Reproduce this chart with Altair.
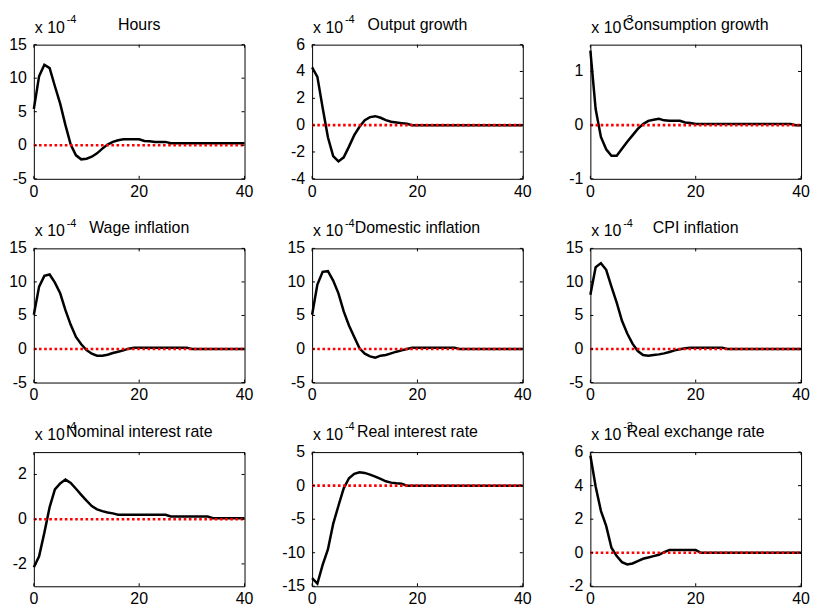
import altair as alt
import pandas as pd

periods = list(range(41))

titles = ["Hours", "Output growth", "Consumption growth",
          "Wage inflation", "Domestic inflation", "CPI inflation",
          "Nominal interest rate", "Real interest rate", "Real exchange rate"]
exponents = ["-4", "-4", "-3", "-4", "-4", "-4", "-4", "-4", "-3"]

hours = [5.4, 10.3, 12.0, 11.5, 8.8, 6.2, 3.0, 0.1, -1.5, -2.1, -2.0, -1.7, -1.2, -0.5,
         0.1, 0.5, 0.75, 0.9, 0.9, 0.9, 0.9, 0.65, 0.6, 0.5, 0.5, 0.5, 0.3] + [0.3] * 14
output_growth = [4.3, 3.6, 1.3, -0.9, -2.3, -2.7, -2.4, -1.6, -0.75, -0.12, 0.37, 0.6, 0.67,
                 0.55, 0.37, 0.25, 0.2, 0.15, 0.1, 0.0] + [0.0] * 21
consumption_growth = [1.39, 0.3, -0.22, -0.45, -0.57, -0.57, -0.44, -0.31, -0.19, -0.07, 0.02,
                      0.08, 0.1, 0.12, 0.09, 0.08, 0.08, 0.08, 0.05, 0.04, 0.02] + [0.02] * 18 + [0.0, 0.0]
wage_inflation = [5.1, 9.3, 10.9, 11.1, 9.9, 8.3, 5.8, 3.6, 1.8, 0.7, -0.15, -0.7, -1.0, -1.0,
                  -0.85, -0.6, -0.4, -0.2, 0.05, 0.2] + [0.2] * 10 + [0.0] * 11
domestic_inflation = [5.1, 9.6, 11.5, 11.6, 10.2, 8.3, 5.6, 3.5, 1.8, 0.1, -0.7, -1.1, -1.3,
                      -1.0, -0.9, -0.65, -0.4, -0.2, 0.0, 0.2] + [0.2] * 8 + [0.0] * 13
cpi_inflation = [8.1, 12.2, 12.8, 11.8, 9.3, 6.9, 4.2, 2.3, 0.8, -0.3, -0.9, -1.0, -0.9, -0.8,
                 -0.65, -0.45, -0.2, -0.05, 0.1, 0.2] + [0.2] * 6 + [0.0] * 15
nominal_rate = [-2.15, -1.66, -0.6, 0.54, 1.33, 1.6, 1.77, 1.62, 1.36, 1.09, 0.83, 0.59, 0.44,
                0.36, 0.3, 0.26, 0.2] + [0.2] * 9 + [0.12] * 8 + [0.04] * 7
real_rate = [-13.8, -14.6, -11.8, -9.5, -5.7, -3.0, -0.4, 1.1, 1.75, 2.0, 1.9, 1.65, 1.35, 1.0,
             0.65, 0.45, 0.35, 0.3] + [0.0] * 23
real_exchange = [5.8, 3.95, 2.5, 1.6, 0.3, -0.2, -0.56, -0.7, -0.64, -0.5, -0.36, -0.28, -0.2,
                 -0.12, 0.04, 0.16, 0.16, 0.16, 0.16, 0.16, 0.16] + [0.0] * 20

series = [hours, output_growth, consumption_growth, wage_inflation, domestic_inflation,
          cpi_inflation, nominal_rate, real_rate, real_exchange]
domains = [[-5, 15], [-4, 6], [-1, 1.5], [-5, 15], [-5, 15], [-5, 15], [-3, 3], [-15, 5], [-2, 6]]
y_ticks = [[-5, 0, 5, 10, 15], [-4, -2, 0, 2, 4, 6], [-1, 0, 1], [-5, 0, 5, 10, 15],
           [-5, 0, 5, 10, 15], [-5, 0, 5, 10, 15], [-2, 0, 2], [-15, -10, -5, 0, 5],
           [-2, 0, 2, 4, 6]]
x_ticks = [0, 20, 40]

W, H = 212, 135
FONT = "Liberation Sans"
FS = 16


def panel(title, values, domain, yt, expo):
    df = pd.DataFrame({"t": periods, "v": values, "z": [0.0] * len(periods)})
    xs = alt.Scale(domain=[0, 40], nice=False, zero=False)
    ys = alt.Scale(domain=domain, nice=False, zero=False)

    def X(f):
        return alt.X(f, scale=xs, axis=None)

    def Y(f):
        return alt.Y(f, scale=ys, axis=None)

    line = alt.Chart(df).mark_line(color="black", strokeWidth=2.5).encode(x=X("t:Q"), y=Y("v:Q"))
    zero = alt.Chart(df).mark_line(color="#ff0000", strokeWidth=2.6, strokeDash=[2.6, 2.6],
                                   strokeCap="butt").encode(x=X("t:Q"), y=Y("z:Q"))
    xt = pd.DataFrame({"t": x_ticks, "lab": [str(v) for v in x_ticks]})
    ytd = pd.DataFrame({"v": yt, "lab": [("%g" % v) for v in yt]})
    tb = alt.Chart(xt).mark_rule(color="black", strokeWidth=1).encode(
        x=X("t:Q"), y=alt.value(H), y2=alt.value(H - 3))
    tt = alt.Chart(xt).mark_rule(color="black", strokeWidth=1).encode(
        x=X("t:Q"), y=alt.value(0), y2=alt.value(3))
    tl = alt.Chart(ytd).mark_rule(color="black", strokeWidth=1).encode(
        y=Y("v:Q"), x=alt.value(0), x2=alt.value(3))
    tr = alt.Chart(ytd).mark_rule(color="black", strokeWidth=1).encode(
        y=Y("v:Q"), x=alt.value(W), x2=alt.value(W - 3))
    xl = alt.Chart(xt).mark_text(align="center", baseline="top", font=FONT, fontSize=FS,
                                 color="black").encode(x=X("t:Q"), y=alt.value(H + 5), text="lab:N")
    yl = alt.Chart(ytd).mark_text(align="right", baseline="middle", font=FONT, fontSize=FS,
                                  color="black").encode(y=Y("v:Q"), x=alt.value(-7), text="lab:N")
    mult = alt.Chart(pd.DataFrame({"s": ["x 10"]})).mark_text(
        align="left", baseline="alphabetic", font=FONT, fontSize=FS, color="black").encode(
        text="s:N", x=alt.value(1), y=alt.value(-12))
    sup = alt.Chart(pd.DataFrame({"s": [expo]})).mark_text(
        align="left", baseline="alphabetic", font=FONT, fontSize=11, color="black").encode(
        text="s:N", x=alt.value(33), y=alt.value(-22))
    ttl = alt.Chart(pd.DataFrame({"s": [title]})).mark_text(
        align="center", baseline="alphabetic", font=FONT, fontSize=FS, color="black").encode(
        text="s:N", x=alt.value(W / 2), y=alt.value(-15))
    return alt.layer(line, zero, tb, tt, tl, tr, xl, yl, mult, sup, ttl).properties(width=W, height=H)


panels = [panel(titles[i], series[i], domains[i], y_ticks[i], exponents[i]) for i in range(9)]

chart = alt.concat(*panels, columns=3, spacing={"row": 70, "column": 68}, bounds="flush").properties(
    padding={"left": 0, "top": 3, "right": 0, "bottom": 0},
    background="white",
).configure_view(stroke="black", strokeWidth=1)

chart.save("out.html", embed_options={"renderer": "svg", "actions": False})
